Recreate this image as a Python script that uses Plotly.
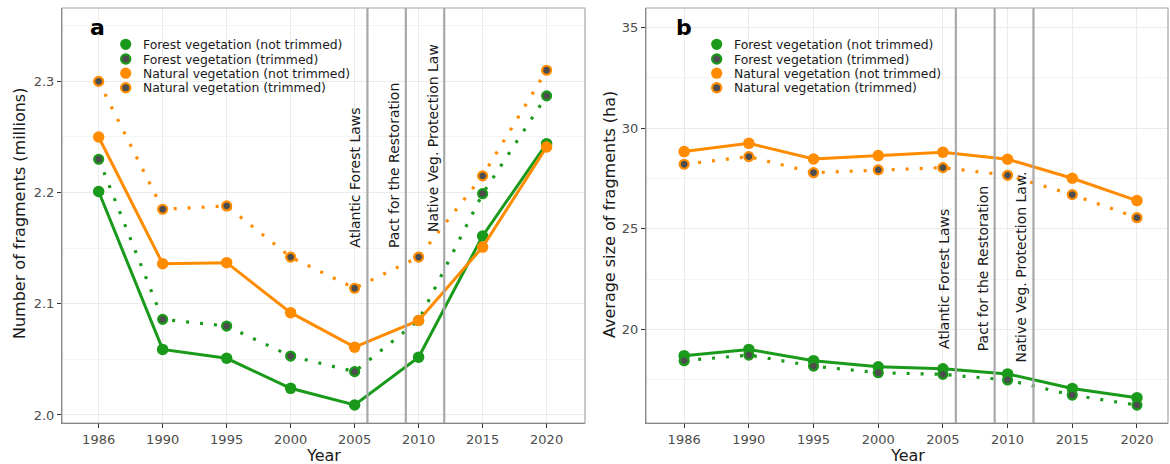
import numpy as np
import plotly.graph_objects as go

# ---------------- data ----------------
years = [1986, 1990, 1995, 2000, 2005, 2010, 2015, 2020]
year_labels = [str(y) for y in years]

series_names = [
    "Forest vegetation (not trimmed)",
    "Forest vegetation (trimmed)",
    "Natural vegetation (not trimmed)",
    "Natural vegetation (trimmed)",
]

# Panel a: number of fragments (millions)
frag_forest_nt = [2.201, 2.059, 2.051, 2.024, 2.009, 2.052, 2.161, 2.244]
frag_forest_t = [2.230, 2.086, 2.080, 2.053, 2.039, 2.085, 2.199, 2.287]
frag_natural_nt = [2.250, 2.136, 2.137, 2.092, 2.061, 2.085, 2.151, 2.241]
frag_natural_t = [2.300, 2.185, 2.188, 2.142, 2.114, 2.142, 2.215, 2.310]

# Panel b: average size of fragments (ha)
size_forest_nt = [18.69, 19.00, 18.44, 18.14, 18.04, 17.78, 17.06, 16.60]
size_forest_t = [18.44, 18.72, 18.17, 17.84, 17.76, 17.48, 16.73, 16.23]
size_natural_nt = [28.84, 29.25, 28.47, 28.64, 28.81, 28.46, 27.51, 26.40]
size_natural_t = [28.21, 28.59, 27.79, 27.93, 28.04, 27.66, 26.70, 25.55]

law_years = [2006, 2009, 2012]
law_labels_a = ["Atlantic Forest Laws", "Pact for the Restoration", "Native Veg. Protection Law"]
law_labels_b = ["Atlantic Forest Laws", "Pact for the Restoration", "Native Veg. Protection Law."]
law_label_y_a = [2.2138, 2.2246, 2.2494]
law_label_y_b = [22.50, 23.02, 23.10]

y_ticks_a = [2.0, 2.1, 2.2, 2.3]
y_ticks_b = [20, 25, 30, 35]

# ---------------- style ----------------
W, H = 1170, 464
GREEN = "#1A9A1A"
ORANGE = "#FF8C00"
DARK = "#4D4D4D"
colors = [GREEN, GREEN, ORANGE, ORANGE]
trimmed = [False, True, False, True]
FONT = "DejaVu Sans"

idx = list(range(len(years)))  # equally spaced positions, as in the original
law_pos = [float(v) for v in np.interp(law_years, years, idx)]


def px_x(p):
    return p / W


def px_y(p):
    return 1 - p / H


dom_a = [px_x(62), px_x(585)]
dom_b = [px_x(646), px_x(1168)]
dom_y = [px_y(423), px_y(8)]

fig = go.Figure()

panels = [
    ("x", "y", [frag_forest_nt, frag_forest_t, frag_natural_nt, frag_natural_t]),
    ("x2", "y2", [size_forest_nt, size_forest_t, size_natural_nt, size_natural_t]),
]

for xa, ya, data in panels:
    for name, vals, col, trim in zip(series_names, data, colors, trimmed):
        if trim:
            line = dict(color=col, width=3.2, dash="3px,11px")
            marker = dict(size=9, color=DARK, line=dict(color=col, width=2.2))
        else:
            line = dict(color=col, width=3)
            marker = dict(size=11.5, color=col, line=dict(width=0))
        fig.add_trace(go.Scatter(
            x=idx, y=vals, mode="lines+markers", name=name,
            line=line, marker=marker, xaxis=xa, yaxis=ya, showlegend=False,
        ))

axis_common = dict(
    showgrid=True, gridcolor="#EBEBEB", gridwidth=1.1,
    showline=True, linecolor="#666666", linewidth=1,
    ticks="outside", ticklen=4, tickcolor="#333333", tickwidth=1,
    tickfont=dict(family=FONT, size=13, color="#4D4D4D"),
    zeroline=False,
)

fig.update_layout(
    width=W, height=H,
    margin=dict(l=0, r=0, t=0, b=0),
    paper_bgcolor="white", plot_bgcolor="white",
    showlegend=False,
    xaxis=dict(domain=dom_a, anchor="y", range=[-0.573, 7.6],
               tickmode="array", tickvals=idx, ticktext=year_labels, **axis_common),
    yaxis=dict(domain=dom_y, anchor="x", range=[1.9928, 2.366],
               tickmode="array", tickvals=y_ticks_a, tickformat=".1f",
               minor=dict(showgrid=True, gridcolor="#F4F4F4", gridwidth=0.6,
                          tickmode="array", tickvals=[1.95, 2.05, 2.15, 2.25, 2.35], ticks=""),
               **axis_common),
    xaxis2=dict(domain=dom_b, anchor="y2", range=[-0.59, 7.48],
                tickmode="array", tickvals=idx, ticktext=year_labels, **axis_common),
    yaxis2=dict(domain=dom_y, anchor="x2", range=[15.34, 35.98],
                tickmode="array", tickvals=y_ticks_b,
                minor=dict(showgrid=True, gridcolor="#F4F4F4", gridwidth=0.6,
                           tickmode="array", tickvals=[17.5, 22.5, 27.5, 32.5], ticks=""),
                **axis_common),
)

shapes = []
annotations = []

# panel borders
for dom in (dom_a, dom_b):
    shapes.append(dict(type="rect", xref="paper", yref="paper",
                       x0=dom[0], x1=dom[1], y0=dom_y[0], y1=dom_y[1],
                       line=dict(color="#A6A6A6", width=1.2), layer="above"))

# law vertical lines + labels
for xa, ya, labels, ys in (("x", "y", law_labels_a, law_label_y_a),
                           ("x2", "y2", law_labels_b, law_label_y_b)):
    for pos, lab, yy in zip(law_pos, labels, ys):
        shapes.append(dict(type="line", xref=xa, yref="paper",
                           x0=pos, x1=pos, y0=dom_y[0], y1=dom_y[1],
                           line=dict(color="#A8A8A8", width=2.2), layer="above"))
        annotations.append(dict(x=pos, y=yy, xref=xa, yref=ya, text=lab,
                                textangle=-90, showarrow=False, xanchor="center",
                                yanchor="middle", xshift=-12,
                                font=dict(family=FONT, size=14, color="#1A1A1A")))

# panel letters
for lab, xp in (("a", 98), ("b", 684)):
    annotations.append(dict(x=px_x(xp), y=px_y(28), xref="paper", yref="paper",
                            text=f"<b>{lab}</b>", showarrow=False,
                            xanchor="center", yanchor="middle",
                            font=dict(family=FONT, size=22, color="black")))

# manual legends (compact ggplot-style key)
row_y = [44.3, 59.0, 73.2, 87.7]
for mx in (125.7, 716.7):
    for name, col, trim, ry in zip(series_names, colors, trimmed, row_y):
        cx, cy = px_x(mx), px_y(ry)
        r = 4.6 if trim else 5.6
        rx, ry_ = r / W, r / H
        shapes.append(dict(type="circle", xref="paper", yref="paper",
                           x0=cx - rx, x1=cx + rx, y0=cy - ry_, y1=cy + ry_,
                           fillcolor=DARK if trim else col,
                           line=dict(color=col, width=2.2 if trim else 0),
                           layer="above"))
        annotations.append(dict(x=px_x(mx + 15.5), y=cy, xref="paper", yref="paper",
                                text=name, showarrow=False, xanchor="left",
                                yanchor="middle",
                                font=dict(family=FONT, size=12.4, color="#1A1A1A")))

# axis titles
title_font = dict(family=FONT, size=16, color="#1A1A1A")
annotations += [
    dict(x=px_x(19), y=px_y(214), xref="paper", yref="paper",
         text="Number of fragments (millions)", textangle=-90, showarrow=False,
         xanchor="center", yanchor="middle", font=title_font),
    dict(x=px_x(609), y=px_y(215), xref="paper", yref="paper",
         text="Average size of fragments (ha)", textangle=-90, showarrow=False,
         xanchor="center", yanchor="middle", font=title_font),
    dict(x=px_x(323.5), y=px_y(455), xref="paper", yref="paper",
         text="Year", showarrow=False, xanchor="center", yanchor="middle",
         font=title_font),
    dict(x=px_x(907), y=px_y(455), xref="paper", yref="paper",
         text="Year", showarrow=False, xanchor="center", yanchor="middle",
         font=title_font),
]

fig.update_layout(shapes=shapes, annotations=annotations)
fig.write_html("out.html")
